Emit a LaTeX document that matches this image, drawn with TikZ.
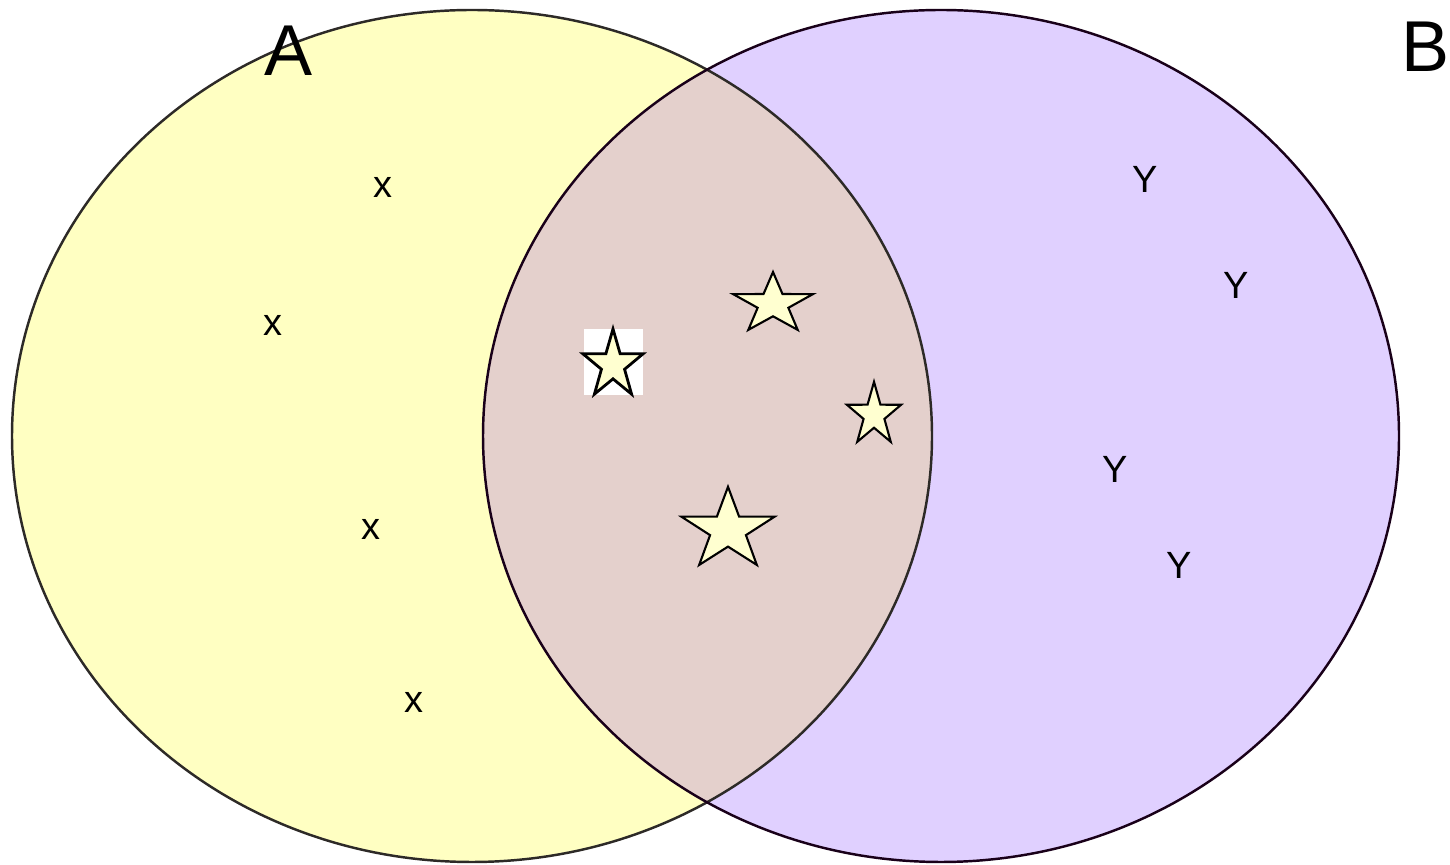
\documentclass[tikz,border=0pt]{standalone}
\usepackage{fontspec}
\setmainfont{Liberation Sans}
\usetikzlibrary{shapes.geometric}
\definecolor{setA}{RGB}{255,255,194}
\definecolor{setB}{RGB}{224,208,255}
\definecolor{setAB}{RGB}{228,208,204}
\definecolor{starfill}{RGB}{255,255,208}

\begin{document}
\begin{tikzpicture}[x=0.02cm,y=0.02cm,
  elem/.style={anchor=base,inner sep=0pt,font=\fontsize{21.6}{24}\selectfont},
  setname/.style={anchor=base,inner sep=0pt,font=\fontsize{41}{46}\selectfont},
  starmark/.style={star,star points=5,star point ratio=2.6,draw=black,line width=1.2pt,
    fill=starfill,inner sep=0pt,transform shape}]
\path[use as bounding box] (0,0) rectangle (1450,865);
\fill[setA] (472,429) ellipse [x radius=460,y radius=426];
\fill[setB] (941,429) ellipse [x radius=458,y radius=426];
\begin{scope}
\clip (472,429) ellipse [x radius=460,y radius=426];
\fill[setAB] (941,429) ellipse [x radius=458,y radius=426];
\end{scope}
\draw[black!90!olive,line width=1.4pt] (472,429) ellipse [x radius=460,y radius=426];
\draw[black!80!violet,line width=1.4pt] (941,429) ellipse [x radius=458,y radius=426];
\node[setname] (nameA) at (289,789) {A};
\node[setname,anchor=base west] (nameB) at (1401,793) {B};
\node[elem] (x1) at (383,667) {x};
\node[elem] (x2) at (273,529) {x};
\node[elem] (x3) at (371,325) {x};
\node[elem] (x4) at (414,152) {x};
\node[elem] (y1) at (1145,672) {Y};
\node[elem] (y2) at (1236,566) {Y};
\node[elem] (y3) at (1115,382) {Y};
\node[elem] (y4) at (1179,286) {Y};
\fill[white] (584,470) rectangle (643,536);
\node[starmark,line width=1.6pt,minimum size=1.36cm,xscale=0.93,yscale=1.06] (s1) at (613,500) {};
\node[starmark,minimum size=1.6cm,xscale=1.05,yscale=0.8] (s2) at (773,561) {};
\node[starmark,minimum size=1.2cm,xscale=0.95,yscale=1.105] (s3) at (874,450) {};
\node[starmark,minimum size=1.8cm,xscale=1.09,yscale=0.96] (s4) at (728,335) {};
\end{tikzpicture}
\end{document}
